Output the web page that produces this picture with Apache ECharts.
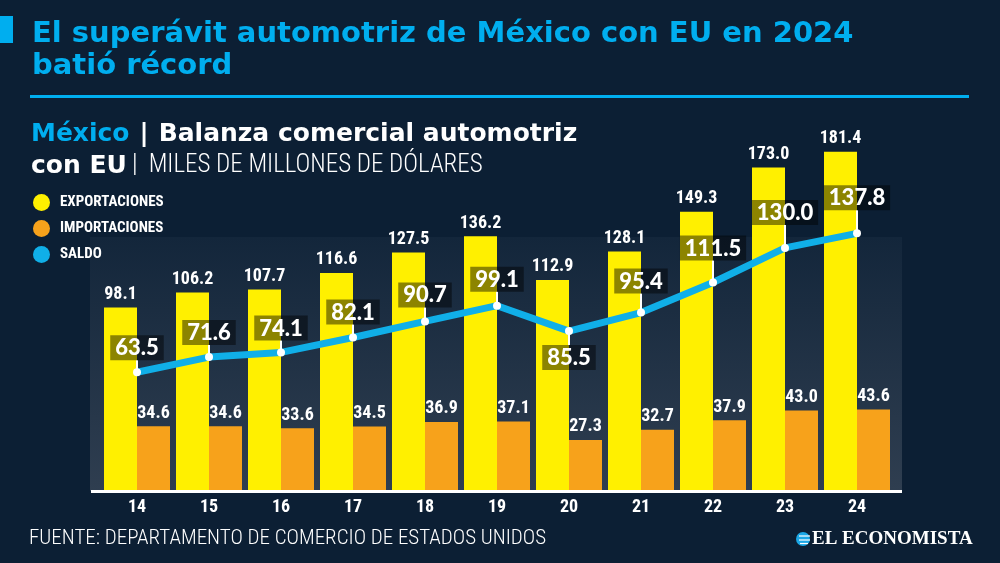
<!DOCTYPE html>
<html>
<head>
<meta charset="utf-8">
<script src="https://cdn.jsdelivr.net/npm/echarts@6/dist/echarts.min.js"></script>
<style>
html,body{margin:0;padding:0;background:#0c1f34;}
#chart{width:1000px;height:563px;}
</style>
</head>
<body>
<div id="chart"></div>
<script>
// ---- data ----
const years = ['14','15','16','17','18','19','20','21','22','23','24'];
const exportaciones = [98.1,106.2,107.7,116.6,127.5,136.2,112.9,128.1,149.3,173.0,181.4];
const importaciones = [34.6,34.6,33.6,34.5,36.9,37.1,27.3,32.7,37.9,43.0,43.6];
const saldo = [63.5,71.6,74.1,82.1,90.7,99.1,85.5,95.4,111.5,130.0,137.8];

// ---- style ----
const BG = '#0c1f34';
const CYAN = '#00aeef';
const YELLOW = '#fff000';
const ORANGE = '#f7a21b';
const BLUE = '#10afe8';
const NARROW = '"Roboto Condensed", sans-serif';
const saldoGap = [12,12,12,13,14,14,14,19,22,23,23];
const saldoBelow = [6];

const chart = echarts.init(document.getElementById('chart'));

const barLabel = {show: true, position: 'top', distance: 4, color: '#ffffff', fontFamily: NARROW, fontWeight: 'bold', fontSize: 18,
  formatter: p => p.value.toFixed(1)};

const option = {
  backgroundColor: BG,
  animation: false,
  title: [
    {
      text: 'El superávit automotriz de México con EU en 2024\nbatió récord',
      left: 32, top: 18, padding: 0,
      textStyle: {color: CYAN, fontFamily: 'DejaVu Sans', fontWeight: 'bold', fontSize: 29, lineHeight: 32}
    },
    {
      text: '{c|México}  {w||}  {w|Balanza comercial automotriz}\n{w|con EU} {t||  MILES DE MILLONES DE DÓLARES}',
      left: 31, top: 118, padding: 0,
      textStyle: {
        rich: {
          c: {color: CYAN, fontFamily: 'DejaVu Sans', fontWeight: 'bold', fontSize: 25, lineHeight: 32},
          w: {color: '#ffffff', fontFamily: 'DejaVu Sans', fontWeight: 'bold', fontSize: 25, lineHeight: 32},
          t: {color: '#ffffff', fontFamily: NARROW, fontWeight: 300, fontSize: 25, lineHeight: 32}
        }
      }
    }
  ],
  legend: {
    orient: 'vertical', left: 33, top: 194, padding: 0,
    itemWidth: 17, itemHeight: 17, itemGap: 9,
    textStyle: {color: '#ffffff', fontFamily: NARROW, fontWeight: 'bold', fontSize: 15, padding: [0, 0, 0, 5]},
    data: [
      {name: 'EXPORTACIONES', icon: 'circle'},
      {name: 'IMPORTACIONES', icon: 'circle'},
      {name: 'SALDO', icon: 'circle', itemStyle: {color: BLUE}}
    ]
  },
  grid: {left: 101, right: 107, top: 117, bottom: 72},
  xAxis: {
    type: 'category', data: years,
    axisLine: {show: false}, axisTick: {show: false},
    axisLabel: {color: '#ffffff', fontFamily: NARROW, fontWeight: 'bold', fontSize: 18, margin: 7}
  },
  yAxis: {type: 'value', min: 0, max: 200, show: false, splitLine: {show: false}},
  graphic: [
    {
      type: 'rect', z: -10, silent: true,
      shape: {x: 90, y: 237, width: 812, height: 254},
      style: {fill: new echarts.graphic.LinearGradient(0,0,0,1,[{offset:0,color:'#13263b'},{offset:1,color:'#2f3e50'}])}
    },
    {type: 'rect', shape: {x: 0, y: 16, width: 13, height: 27}, style: {fill: CYAN}},
    {type: 'rect', shape: {x: 30, y: 95, width: 939, height: 3}, style: {fill: CYAN}},
    {type: 'rect', z: 100, shape: {x: 91, y: 490, width: 811, height: 3}, style: {fill: '#ffffff'}},
    {
      type: 'text', left: 29, top: 528,
      style: {text: 'FUENTE: DEPARTAMENTO DE COMERCIO DE ESTADOS UNIDOS', fill: '#ffffff', font: '300 21px ' + NARROW}
    },
    {
      type: 'group', left: 796, top: 530,
      children: [
        {type: 'circle', shape: {cx: 7, cy: 8, r: 7}, style: {fill: '#1ba7e6'}},
        {type: 'line', shape: {x1: 3, y1: 5, x2: 14, y2: 5}, style: {stroke: '#ffffff', lineWidth: 1.2}},
        {type: 'line', shape: {x1: 3, y1: 9, x2: 14, y2: 9}, style: {stroke: '#ffffff', lineWidth: 1.2}},
        {type: 'line', shape: {x1: 4, y1: 12.5, x2: 12, y2: 12.5}, style: {stroke: '#ffffff', lineWidth: 1.2}},
        {type: 'text', x: 16, y: -1, style: {text: 'EL ECONOMISTA', fill: '#ffffff', font: 'bold 19px "Liberation Serif", serif'}}
      ]
    }
  ],
  series: [
    {
      name: 'EXPORTACIONES', type: 'bar', data: exportaciones,
      barWidth: 33, barGap: '0%',
      itemStyle: {color: YELLOW},
      label: barLabel
    },
    {
      name: 'IMPORTACIONES', type: 'bar', data: importaciones,
      barWidth: 33, barGap: '0%',
      itemStyle: {color: ORANGE},
      label: barLabel
    },
    {
      name: 'SALDO', type: 'line', data: saldo, z: 5,
      symbol: 'circle', symbolSize: 8, showAllSymbol: true,
      lineStyle: {color: BLUE, width: 7},
      itemStyle: {color: '#ffffff'},
      label: {show: false}
    },
    {
      name: 'saldoLabels', type: 'custom', z: 10, silent: true,
      data: saldo.map((v, i) => [i, v]),
      renderItem: function (params, api) {
        const i = api.value(0);
        const p = api.coord([i, api.value(1)]);
        const gap = saldoGap[i];
        const below = saldoBelow.indexOf(i) >= 0;
        const yEnd = below ? p[1] + gap : p[1] - gap;
        return {
          type: 'group',
          children: [
            {type: 'line', shape: {x1: p[0], y1: p[1], x2: p[0], y2: yEnd}, style: {stroke: '#ffffff', lineWidth: 2}},
            {
              type: 'text', x: p[0], y: yEnd,
              style: {
                text: saldo[i].toFixed(1), fill: '#ffffff',
                font: '900 22px Lato, sans-serif',
                align: 'center', verticalAlign: below ? 'top' : 'bottom',
                backgroundColor: 'rgba(0,0,0,0.45)', padding: [2, 5, 1, 5]
              }
            }
          ]
        };
      }
    }
  ]
};
chart.setOption(option);
</script>
</body>
</html>
